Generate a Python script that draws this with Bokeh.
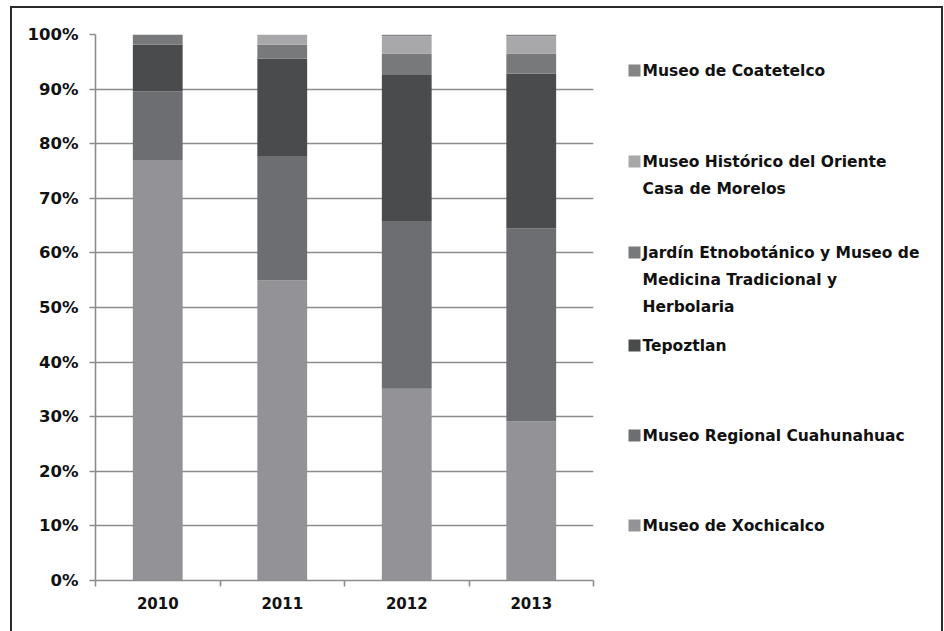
from bokeh.plotting import figure
from bokeh.layouts import row
from bokeh.models import FixedTicker, PrintfTickFormatter, ColumnDataSource, Range1d
from bokeh.core.properties import value
from bokeh.embed import file_html
from bokeh.resources import INLINE

# ---- data (percent of visitors per museum, per year) ----
years = ["2010", "2011", "2012", "2013"]
xochicalco = [77.0, 55.0, 35.1, 29.1]
cuahunahuac = [12.6, 22.6, 30.6, 35.4]
tepoztlan = [8.5, 18.0, 26.9, 28.3]
jardin = [1.9, 2.5, 3.9, 3.7]
historico = [0.0, 1.9, 3.2, 3.2]
coatetelco = [0.0, 0.0, 0.3, 0.3]

series_keys = ["xochicalco", "cuahunahuac", "tepoztlan", "jardin", "historico", "coatetelco"]
legend_lines = {
    "xochicalco": ["Museo de Xochicalco"],
    "cuahunahuac": ["Museo Regional Cuahunahuac"],
    "tepoztlan": ["Tepoztlan"],
    "jardin": ["Jardín Etnobotánico  y Museo de", "Medicina Tradicional y", "Herbolaria"],
    "historico": ["Museo Histórico del Oriente", "Casa de Morelos"],
    "coatetelco": ["Museo de Coatetelco"],
}
y_ticks = [0, 10, 20, 30, 40, 50, 60, 70, 80, 90, 100]

# ---- styles ----
colors = {
    "xochicalco": "#939397",
    "cuahunahuac": "#6d6e71",
    "tepoztlan": "#4a4b4d",
    "jardin": "#78797b",
    "historico": "#a8a8aa",
    "coatetelco": "#858587",
}
FRAME_TOP = 26
FRAME_H = 546
H = 623
LEG_W = 338
# vertical position (px from top of canvas) of each entry's first line
legend_y = {
    "coatetelco": 62,
    "historico": 153,
    "jardin": 244,
    "tepoztlan": 337,
    "cuahunahuac": 427,
    "xochicalco": 517,
}
LINE_GAP = 27
FONT = "DejaVu Sans"
GRID = "#8c8c8c"

n = len(years)
xs = [i + 0.5 for i in range(n)]
src = ColumnDataSource(dict(x=xs, xochicalco=xochicalco, cuahunahuac=cuahunahuac,
                            tepoztlan=tepoztlan, jardin=jardin, historico=historico,
                            coatetelco=coatetelco))

p = figure(output_backend="svg", toolbar_location=None,
           frame_width=498, frame_height=FRAME_H,
           min_border_left=83, min_border_top=FRAME_TOP, min_border_right=10,
           min_border_bottom=H - FRAME_TOP - FRAME_H,
           x_range=Range1d(0, n), y_range=Range1d(0, 100))

p.vbar_stack(series_keys, x="x", width=0.4, source=src,
             color=[colors[k] for k in series_keys], line_color=None)

p.outline_line_color = None
p.xgrid.visible = False
p.ygrid.grid_line_color = GRID
p.ygrid.grid_line_width = 1.6

xa = p.xaxis[0]
xa.ticker = FixedTicker(ticks=xs, minor_ticks=list(range(n + 1)))
xa.major_label_overrides = {x: y for x, y in zip(xs, years)}
xa.major_tick_out = 0
xa.major_tick_in = 0
xa.minor_tick_out = 6
xa.minor_tick_in = 0
xa.minor_tick_line_color = GRID
xa.minor_tick_line_width = 1.6
xa.axis_line_color = GRID
xa.axis_line_width = 1.6
xa.major_label_standoff = 10
xa.major_label_text_font = FONT
xa.major_label_text_font_style = "bold"
xa.major_label_text_font_size = "15px"
xa.major_label_text_color = "#111111"

ya = p.yaxis[0]
ya.ticker = FixedTicker(ticks=y_ticks)
ya.formatter = PrintfTickFormatter(format="%d%%")
ya.major_tick_out = 6
ya.major_tick_in = 0
ya.minor_tick_out = 0
ya.minor_tick_in = 0
ya.major_tick_line_color = GRID
ya.major_tick_line_width = 1.6
ya.axis_line_color = GRID
ya.axis_line_width = 1.6
ya.major_label_standoff = 11
ya.major_label_text_font = FONT
ya.major_label_text_font_style = "bold"
ya.major_label_text_font_size = "16.5px"
ya.major_label_text_color = "#111111"

# ---- legend panel (its frame is aligned with the chart's frame; y runs downward) ----
lg = figure(output_backend="svg", toolbar_location=None, width=LEG_W, height=H,
            x_range=Range1d(0, LEG_W),
            y_range=Range1d(FRAME_TOP + FRAME_H, FRAME_TOP),
            min_border=0, x_axis_type=None, y_axis_type=None)
lg.outline_line_color = None
lg.grid.visible = False

sq_x, sq_y, sq_c = [], [], []
tx, ty, tt = [], [], []
for k in series_keys:
    y0 = legend_y[k]
    sq_x.append(31)
    sq_y.append(y0)
    sq_c.append(colors[k])
    for j, line in enumerate(legend_lines[k]):
        tx.append(39)
        ty.append(y0 + j * LINE_GAP)
        tt.append(line)

lg.rect(x=sq_x, y=sq_y, width=12, height=12, fill_color=sq_c, line_color=None)
lg.text(x=tx, y=ty, text=tt, text_baseline="middle", text_align="left",
        text_font=value(FONT), text_font_style="bold", text_font_size="15.5px",
        text_color="#111111")

lay = row(p, lg)
lay.styles = {"border": "2px solid #2b2b2b", "margin-left": "10px", "margin-top": "6px"}

open("out.html", "w").write(file_html(lay, INLINE))
